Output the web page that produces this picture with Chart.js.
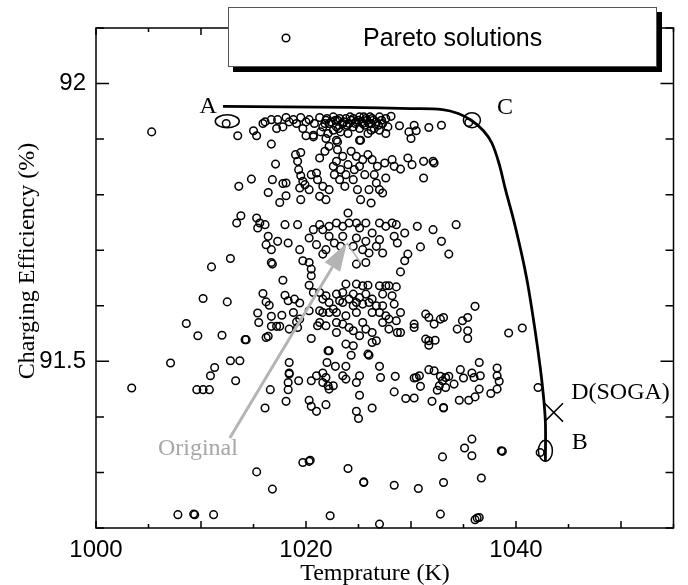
<!DOCTYPE html>
<html><head><meta charset="utf-8">
<script src="https://cdn.jsdelivr.net/npm/chart.js@4.4.1/dist/chart.umd.min.js"></script>
<style>html,body{margin:0;padding:0;background:#fff;}canvas{display:block;}</style>
</head><body>
<canvas id="c" width="688" height="585"></canvas>
<script>
// ---- axis ticks ----
const xTicks = [1000,1005,1010,1015,1020,1025,1030,1035,1040,1045,1050,1055];
const xTickLabels = [1000,1020,1040];
const yTicks = [91.2,91.3,91.4,91.5,91.6,91.7,91.8,91.9,92.0,92.1];
const yTickLabels = [91.5,92];

// ---- Pareto solutions [temperature K, charging efficiency %] ----
const paretoTop = [[1005.3,91.913],[1012.4,91.928],[1013.5,91.906],[1015.0,91.915],[1015.3,91.906],[1015.9,91.928],[1016.1,91.931],[1016.7,91.891],[1016.7,91.935],[1017.2,91.919],[1017.3,91.935],[1017.8,91.922],[1018.1,91.939],[1018.4,91.931],[1018.8,91.935],[1019.1,91.928],[1019.5,91.939],[1019.7,91.919],[1020.0,91.931],[1020.3,91.935],[1020.7,91.907],[1020.8,91.928],[1021.3,91.939],[1021.6,91.922],[1021.9,91.934],[1022.1,91.910],[1022.2,91.928],[1022.6,91.940],[1022.9,91.922],[1022.9,91.898],[1023.0,91.934],[1023.3,91.913],[1023.5,91.928],[1023.8,91.937],[1024.0,91.910],[1024.1,91.928],[1024.5,91.937],[1024.5,91.922],[1024.8,91.931],[1025.1,91.940],[1025.1,91.919],[1025.2,91.898],[1025.4,91.928],[1025.7,91.937],[1025.9,91.910],[1026.0,91.928],[1026.3,91.937],[1026.5,91.919],[1026.7,91.931],[1027.0,91.940],[1027.0,91.916],[1027.3,91.928],[1027.6,91.937],[1027.6,91.910],[1021.8,91.928],[1022.0,91.937],[1022.4,91.931],[1022.8,91.934],[1023.2,91.937],[1023.6,91.931],[1023.9,91.925],[1024.3,91.934],[1024.7,91.928],[1025.0,91.934],[1025.3,91.931],[1025.6,91.925],[1025.8,91.934],[1026.2,91.928],[1026.4,91.934],[1026.9,91.925],[1027.2,91.934],[1024.2,91.940],[1025.5,91.940],[1026.1,91.940],[1023.1,91.919],[1026.2,91.916],[1022.6,91.916],[1021.4,91.913],[1020.0,91.906],[1027.8,91.922],[1020.7,91.904],[1021.9,91.901],[1023.0,91.895],[1025.1,91.898],[1028.1,91.941],[1028.9,91.924],[1029.8,91.913],[1030.0,91.901],[1030.3,91.925],[1030.5,91.915],[1031.7,91.921],[1032.9,91.925],[1035.5,91.930]];
const paretoBand2 = [[1017.1,91.855],[1019.0,91.872],[1019.5,91.876],[1019.2,91.860],[1019.3,91.845],[1019.5,91.834],[1019.7,91.824],[1019.4,91.812],[1019.9,91.818],[1019.5,91.791],[1020.3,91.809],[1020.5,91.836],[1021.0,91.839],[1021.1,91.827],[1021.3,91.866],[1021.6,91.815],[1021.8,91.878],[1021.3,91.797],[1021.9,91.791],[1022.2,91.887],[1022.2,91.809],[1022.6,91.851],[1022.7,91.836],[1022.9,91.860],[1023.0,91.881],[1023.2,91.827],[1023.3,91.845],[1023.5,91.869],[1023.7,91.815],[1023.8,91.836],[1024.0,91.854],[1024.3,91.878],[1024.5,91.827],[1024.6,91.845],[1024.8,91.869],[1024.9,91.809],[1025.1,91.851],[1025.2,91.791],[1025.4,91.863],[1025.6,91.836],[1025.9,91.872],[1026.0,91.809],[1026.2,91.785],[1026.3,91.863],[1026.5,91.836],[1026.7,91.821],[1026.8,91.851],[1027.0,91.809],[1027.3,91.803],[1027.5,91.857],[1027.6,91.830],[1014.8,91.828],[1013.6,91.815],[1016.8,91.827],[1017.8,91.820],[1018.1,91.821],[1016.4,91.804],[1018.1,91.798],[1017.5,91.786],[1028.2,91.863],[1028.4,91.851],[1029.0,91.846],[1029.7,91.866],[1030.1,91.854],[1031.2,91.860],[1032.1,91.860],[1032.2,91.857],[1031.2,91.830]];
const paretoBand3 = [[1013.8,91.762],[1013.4,91.749],[1015.3,91.758],[1015.6,91.749],[1016.1,91.746],[1015.4,91.740],[1016.4,91.725],[1016.2,91.710],[1016.7,91.701],[1017.3,91.716],[1018.3,91.713],[1018.0,91.746],[1019.2,91.746],[1019.4,91.701],[1020.3,91.722],[1020.7,91.737],[1021.3,91.746],[1021.6,91.737],[1022.2,91.743],[1022.9,91.749],[1023.5,91.743],[1024.0,91.767],[1024.1,91.749],[1024.8,91.749],[1025.1,91.740],[1025.7,91.749],[1026.3,91.731],[1027.0,91.749],[1027.6,91.743],[1021.9,91.701],[1021.6,91.693],[1022.7,91.713],[1023.3,91.707],[1024.5,91.707],[1025.4,91.701],[1026.0,91.695],[1026.7,91.707],[1027.3,91.695],[1022.2,91.725],[1023.5,91.725],[1024.8,91.722],[1021.0,91.710],[1025.7,91.716],[1027.0,91.719],[1028.2,91.749],[1028.6,91.746],[1029.4,91.731],[1030.6,91.743],[1032.1,91.737],[1032.9,91.716],[1034.3,91.746],[1030.9,91.706],[1033.6,91.693],[1029.7,91.693],[1029.4,91.681],[1029.0,91.661],[1028.4,91.725],[1028.7,91.713],[1012.8,91.685],[1011.0,91.670],[1016.7,91.678],[1016.8,91.675],[1017.8,91.646],[1019.7,91.681],[1020.3,91.678],[1020.5,91.666],[1020.5,91.654],[1024.8,91.675],[1025.7,91.678]];
const paretoBand4 = [[1010.2,91.613],[1012.5,91.607],[1008.6,91.568],[1009.7,91.546],[1012.0,91.547],[1014.2,91.539],[1014.3,91.539],[1015.9,91.622],[1016.2,91.607],[1016.5,91.601],[1015.4,91.587],[1015.5,91.570],[1016.7,91.581],[1017.7,91.583],[1016.7,91.563],[1017.2,91.563],[1017.5,91.563],[1016.2,91.543],[1016.4,91.545],[1018.8,91.588],[1018.3,91.609],[1019.4,91.605],[1018.9,91.612],[1018.4,91.558],[1019.2,91.561],[1019.4,91.576],[1019.1,91.571],[1018.0,91.619],[1020.3,91.637],[1021.3,91.624],[1021.9,91.618],[1022.2,91.606],[1022.9,91.621],[1023.2,91.609],[1023.5,91.624],[1023.8,91.639],[1024.1,91.612],[1024.5,91.621],[1024.8,91.639],[1024.8,91.606],[1025.1,91.615],[1025.4,91.603],[1025.7,91.621],[1025.9,91.637],[1026.0,91.606],[1026.3,91.612],[1026.7,91.600],[1027.0,91.636],[1027.0,91.588],[1027.3,91.621],[1027.6,91.636],[1027.6,91.582],[1021.3,91.591],[1021.6,91.588],[1022.2,91.588],[1022.6,91.594],[1022.9,91.570],[1023.5,91.567],[1024.1,91.561],[1024.5,91.555],[1025.4,91.570],[1025.7,91.558],[1026.3,91.552],[1026.7,91.537],[1027.3,91.570],[1021.9,91.564],[1022.9,91.552],[1021.3,91.570],[1020.5,91.541],[1022.2,91.519],[1023.8,91.531],[1024.5,91.528],[1026.0,91.511],[1026.3,91.534],[1021.6,91.612],[1022.9,91.588],[1023.8,91.582],[1024.8,91.588],[1026.3,91.588],[1027.3,91.600],[1020.3,91.591],[1020.7,91.624],[1021.1,91.564],[1025.1,91.546],[1023.5,91.606],[1024.5,91.600],[1025.4,91.636],[1027.9,91.636],[1028.6,91.634],[1028.2,91.618],[1028.4,91.603],[1029.0,91.588],[1027.9,91.576],[1028.6,91.573],[1027.9,91.558],[1028.7,91.552],[1029.0,91.552],[1030.3,91.567],[1030.3,91.561],[1031.4,91.585],[1031.7,91.579],[1032.2,91.567],[1032.8,91.576],[1033.1,91.579],[1031.4,91.540],[1031.7,91.537],[1031.7,91.529],[1032.3,91.538],[1034.4,91.558],[1035.4,91.555],[1034.9,91.573],[1035.4,91.579],[1035.4,91.541],[1036.1,91.599],[1039.3,91.551],[1040.6,91.560]];
const paretoBand5 = [[1007.1,91.497],[1011.3,91.489],[1010.9,91.474],[1012.8,91.501],[1013.7,91.501],[1013.3,91.465],[1003.4,91.452],[1009.6,91.449],[1010.2,91.449],[1010.8,91.449],[1018.4,91.498],[1018.4,91.477],[1018.4,91.479],[1018.3,91.462],[1018.3,91.449],[1016.6,91.449],[1016.1,91.416],[1018.1,91.428],[1019.3,91.465],[1020.5,91.465],[1021.0,91.474],[1021.6,91.479],[1021.9,91.471],[1021.6,91.462],[1022.1,91.456],[1022.2,91.450],[1022.6,91.456],[1022.0,91.498],[1022.8,91.491],[1023.5,91.474],[1023.8,91.491],[1023.8,91.468],[1024.3,91.511],[1024.8,91.462],[1025.1,91.474],[1025.1,91.439],[1024.8,91.410],[1025.0,91.397],[1026.3,91.416],[1027.0,91.491],[1027.1,91.471],[1025.9,91.513],[1022.1,91.519],[1020.3,91.430],[1020.5,91.419],[1021.0,91.410],[1021.9,91.422],[1028.5,91.473],[1030.3,91.470],[1030.5,91.471],[1030.8,91.474],[1030.9,91.455],[1031.7,91.485],[1032.2,91.483],[1032.8,91.473],[1033.3,91.471],[1033.6,91.473],[1033.0,91.465],[1032.7,91.456],[1032.5,91.448],[1033.3,91.453],[1034.1,91.459],[1034.7,91.485],[1035.0,91.470],[1035.8,91.479],[1036.0,91.471],[1036.5,91.498],[1036.6,91.474],[1036.5,91.450],[1036.1,91.436],[1035.5,91.430],[1034.6,91.430],[1032.0,91.428],[1033.1,91.416],[1033.1,91.417],[1030.3,91.434],[1029.5,91.433],[1028.4,91.445],[1037.6,91.442],[1038.2,91.450],[1038.4,91.464],[1038.2,91.474],[1038.2,91.488],[1042.1,91.453]];
const paretoLow = [[1015.3,91.301],[1016.8,91.270],[1019.7,91.318],[1020.3,91.320],[1020.4,91.322],[1024.0,91.307],[1025.5,91.282],[1025.5,91.283],[1007.8,91.224],[1009.3,91.225],[1009.4,91.224],[1011.2,91.224],[1022.3,91.222],[1027.0,91.207],[1033.0,91.328],[1035.1,91.344],[1035.8,91.360],[1035.8,91.330],[1038.7,91.338],[1038.6,91.339],[1042.3,91.336],[1028.4,91.277],[1030.7,91.271],[1033.1,91.282],[1036.7,91.290],[1032.8,91.225],[1036.1,91.215],[1036.5,91.219],[1036.3,91.218]];

// ---- Pareto front curve ----
const frontT   = [1012.1, 1018, 1024, 1030, 1033.0, 1034.5, 1035.8, 1036.9, 1037.7, 1038.4, 1039.0, 1039.7, 1040.3, 1040.8, 1041.2, 1041.8, 1042.3, 1042.6, 1042.8, 1042.8];
const frontEff = [91.959, 91.958, 91.957, 91.955, 91.953, 91.946, 91.933, 91.915, 91.893, 91.855, 91.809, 91.760, 91.713, 91.670, 91.630, 91.558, 91.490, 91.440, 91.390, 91.320];

// ---- SOGA solution ----
const sogaT = [1043.6];
const sogaEff = [91.408];

// ---- annotations (data coords) ----
const ellipses = [
  {x:1012.5, y:91.932, w:24, h:13},
  {x:1035.8, y:91.934, w:17, h:15},
  {x:1042.8, y:91.339, w:14, h:21}
];
const labels = [
  {text:'A', x:1011.5, y:91.947, align:'right', color:'#000'},
  {text:'C', x:1038.2, y:91.945, align:'left', color:'#000'},
  {text:'D(SOGA)', x:1045.25, y:91.432, align:'left', color:'#000'},
  {text:'B', x:1045.3, y:91.342, align:'left', color:'#000'},
  {text:'Original', x:1005.9, y:91.331, align:'left', color:'#a6a6a6'}
];
const arrowTail = {x:1012.74, y:91.362};
const arrowTip = {x:1023.89, y:91.713};

const allPareto = [].concat(paretoTop, paretoBand2, paretoBand3, paretoBand4, paretoBand5, paretoLow);

const SANS = 'Liberation Sans, Arial, sans-serif';
const SERIF = 'Liberation Serif, Times New Roman, serif';

const overlay = {
  id: 'overlay',
  beforeDatasetsDraw(chart) {
    const ctx = chart.ctx, xs = chart.scales.x, ys = chart.scales.y;
    const {left:L, right:R, top:T, bottom:B} = chart.chartArea;
    ctx.save();
    ctx.strokeStyle = '#000'; ctx.lineWidth = 1.5;
    ctx.strokeRect(L, T, R - L, B - T);
    ctx.beginPath();
    xTicks.forEach(v => {
      const px = xs.getPixelForValue(v);
      const len = (v % 10 === 0) ? 7 : 4;
      ctx.moveTo(px, B); ctx.lineTo(px, B - len);
      ctx.moveTo(px, T); ctx.lineTo(px, T + len);
    });
    yTicks.forEach(v => {
      const py = ys.getPixelForValue(v);
      const major = Math.abs(v * 2 - Math.round(v * 2)) < 1e-6;
      const len = major ? 13 : 8;
      ctx.moveTo(L, py); ctx.lineTo(L + len, py);
      ctx.moveTo(R, py); ctx.lineTo(R - len, py);
    });
    ctx.stroke();
    // axis titles
    ctx.fillStyle = '#000';
    ctx.font = '24px ' + SERIF;
    ctx.textAlign = 'center'; ctx.textBaseline = 'alphabetic';
    ctx.fillText('Temprature (K)', 375, 580);
    ctx.translate(34, 261); ctx.rotate(-Math.PI / 2);
    ctx.fillText('Charging Efficiency (%)', 0, 0);
    ctx.restore();
  },
  afterDatasetsDraw(chart) {
    const ctx = chart.ctx, xs = chart.scales.x, ys = chart.scales.y;
    ctx.save();
    // ellipses
    ctx.strokeStyle = '#000'; ctx.lineWidth = 1.5;
    ellipses.forEach(e => {
      ctx.beginPath();
      ctx.ellipse(xs.getPixelForValue(e.x), ys.getPixelForValue(e.y), e.w / 2, e.h / 2, 0, 0, Math.PI * 2);
      ctx.stroke();
    });
    // arrow
    const tx = xs.getPixelForValue(arrowTail.x), ty = ys.getPixelForValue(arrowTail.y);
    const hx = xs.getPixelForValue(arrowTip.x), hy = ys.getPixelForValue(arrowTip.y);
    const dx = hx - tx, dy = hy - ty, len = Math.hypot(dx, dy);
    const ux = dx / len, uy = dy / len, nx = -uy, ny = ux;
    const bx = hx - 28 * ux, by = hy - 28 * uy;
    ctx.strokeStyle = '#b4b4b4'; ctx.fillStyle = '#b4b4b4'; ctx.lineWidth = 3;
    ctx.beginPath(); ctx.moveTo(tx, ty); ctx.lineTo(bx, by); ctx.stroke();
    ctx.beginPath();
    ctx.moveTo(hx, hy); ctx.lineTo(bx + 9 * nx, by + 9 * ny); ctx.lineTo(bx - 9 * nx, by - 9 * ny); ctx.closePath(); ctx.fill();
    ctx.lineWidth = 1.5;
    ctx.beginPath(); ctx.moveTo(hx, hy); ctx.lineTo(hx + 14, hy + 20); ctx.stroke();
    // labels
    ctx.font = '24px ' + SERIF; ctx.textBaseline = 'alphabetic';
    labels.forEach(l => {
      ctx.fillStyle = l.color; ctx.textAlign = l.align;
      ctx.fillText(l.text, xs.getPixelForValue(l.x), ys.getPixelForValue(l.y));
    });
    ctx.restore();
  },
  afterDraw(chart) {
    const ctx = chart.ctx;
    ctx.save();
    ctx.fillStyle = '#000'; ctx.fillRect(233, 12, 429, 60);
    ctx.fillStyle = '#fff'; ctx.fillRect(228, 7, 429, 60);
    ctx.strokeStyle = '#555'; ctx.lineWidth = 1; ctx.strokeRect(228.5, 7.5, 428, 59);
    ctx.strokeStyle = '#000'; ctx.lineWidth = 1.5;
    ctx.beginPath(); ctx.arc(286, 38, 3.8, 0, Math.PI * 2); ctx.stroke();
    ctx.fillStyle = '#000'; ctx.font = '25px ' + SANS;
    ctx.textAlign = 'left'; ctx.textBaseline = 'middle';
    ctx.fillText(chart.data.datasets[0].label, 363, 39);
    ctx.restore();
  }
};

new Chart(document.getElementById('c'), {
  type: 'scatter',
  data: {
    datasets: [
      {
        label: 'Pareto solutions',
        data: allPareto.map(p => ({x: p[0], y: p[1]})),
        pointStyle: 'circle', pointRadius: 3.8, borderWidth: 1.5,
        borderColor: '#000', backgroundColor: 'rgba(0,0,0,0)', clip: false
      },
      {
        label: 'Pareto front',
        data: frontT.map((t, i) => ({x: t, y: frontEff[i]})),
        showLine: true, tension: 0.35, borderColor: '#000', borderWidth: 2.8,
        pointRadius: 0, fill: false
      },
      {
        label: 'D(SOGA)',
        data: sogaT.map((t, i) => ({x: t, y: sogaEff[i]})),
        pointStyle: 'crossRot', pointRadius: 13, borderWidth: 1.5,
        borderColor: '#000', backgroundColor: '#000', clip: false
      }
    ]
  },
  options: {
    responsive: false, animation: false, events: [],
    layout: {padding: {left: 0, right: 12, top: 28, bottom: 0}},
    plugins: {legend: {display: false}, tooltip: {enabled: false}},
    scales: {
      x: {
        type: 'linear', min: 1000, max: 1055,
        grid: {display: false, drawTicks: false}, border: {display: false},
        ticks: {
          stepSize: 5, autoSkip: false, maxRotation: 0, padding: 8, color: '#000',
          font: {family: SANS, size: 24},
          callback: v => xTickLabels.includes(Math.round(v)) ? String(Math.round(v)) : ''
        },
        afterFit: s => { s.height = 57; }
      },
      y: {
        type: 'linear', min: 91.2, max: 92.1,
        grid: {display: false, drawTicks: false}, border: {display: false},
        ticks: {
          stepSize: 0.1, autoSkip: false, padding: 10, color: '#000',
          font: {family: SANS, size: 24},
          callback: v => { const r = Math.round(v * 10) / 10; return yTickLabels.includes(r) ? String(r) : ''; }
        },
        afterFit: s => { s.width = 96; }
      }
    }
  },
  plugins: [overlay]
});
</script>
</body></html>
